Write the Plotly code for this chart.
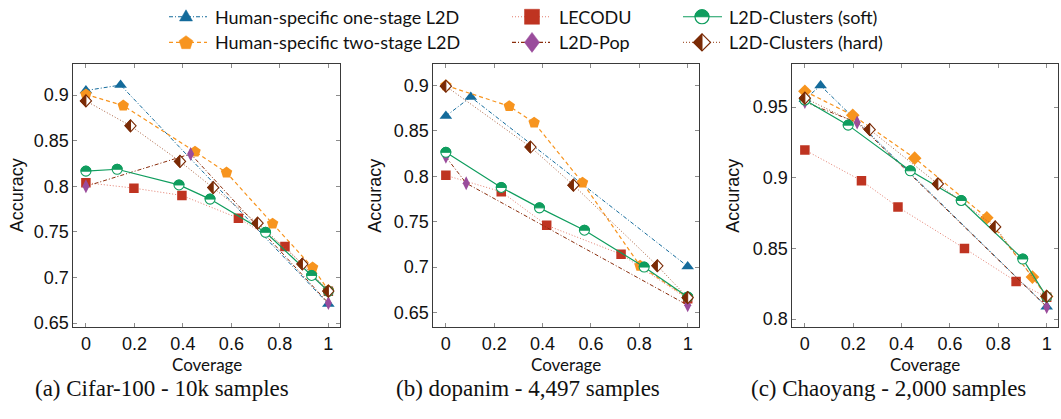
import math
import plotly.graph_objects as go

W, H = 1061, 419

coverage_ticks = [0, 0.2, 0.4, 0.6, 0.8, 1]
coverage_tick_text = ["0", "0.2", "0.4", "0.6", "0.8", "1"]

# ---- Cifar-100 - 10k samples ----
cifar_one_x = [0, 0.143, 1]
cifar_one_y = [0.905, 0.911, 0.671]
cifar_two_x = [0, 0.154, 0.45, 0.58, 0.77, 0.935, 1]
cifar_two_y = [0.9007, 0.8885, 0.838, 0.815, 0.759, 0.711, 0.686]
cifar_lecodu_x = [0, 0.198, 0.396, 0.629, 0.821, 1]
cifar_lecodu_y = [0.804, 0.798, 0.790, 0.765, 0.734, 0.685]
cifar_pop_x = [0, 0.432, 1]
cifar_pop_y = [0.800, 0.8355, 0.672]
cifar_soft_x = [0, 0.129, 0.384, 0.512, 0.741, 0.931, 1]
cifar_soft_y = [0.8166, 0.8187, 0.8015, 0.786, 0.7496, 0.7023, 0.685]
cifar_hard_x = [0, 0.184, 0.388, 0.525, 0.708, 0.893, 1]
cifar_hard_y = [0.8936, 0.8663, 0.8273, 0.7986, 0.7596, 0.7148, 0.6851]
cifar_y_ticks = [0.65, 0.7, 0.75, 0.8, 0.85, 0.9]
cifar_y_text = ["0.65", "0.7", "0.75", "0.8", "0.85", "0.9"]

# ---- dopanim - 4,497 samples ----
dopanim_one_x = [0, 0.103, 1]
dopanim_one_y = [0.8663, 0.8873, 0.7007]
dopanim_two_x = [0, 0.262, 0.365, 0.565, 0.803, 1]
dopanim_two_y = [0.900, 0.8772, 0.859, 0.793, 0.7014, 0.6663]
dopanim_lecodu_x = [0, 0.229, 0.417, 0.7245, 1]
dopanim_lecodu_y = [0.801, 0.783, 0.746, 0.7141, 0.665]
dopanim_pop_x = [0, 0.084, 1]
dopanim_pop_y = [0.8214, 0.7924, 0.658]
dopanim_soft_x = [0, 0.229, 0.387, 0.573, 0.82, 1]
dopanim_soft_y = [0.8264, 0.7877, 0.7652, 0.7406, 0.700, 0.667]
dopanim_hard_x = [0, 0.35, 0.5275, 0.8747, 1]
dopanim_hard_y = [0.8993, 0.8322, 0.7902, 0.7014, 0.6663]
dopanim_y_ticks = [0.65, 0.7, 0.75, 0.8, 0.85, 0.9]
dopanim_y_text = ["0.65", "0.7", "0.75", "0.8", "0.85", "0.9"]

# ---- Chaoyang - 2,000 samples ----
chaoyang_one_x = [0, 0.065, 1]
chaoyang_one_y = [0.9555, 0.9652, 0.8087]
chaoyang_two_x = [0, 0.198, 0.454, 0.7524, 0.941, 1]
chaoyang_two_y = [0.9612, 0.9442, 0.9138, 0.8717, 0.8297, 0.816]
chaoyang_lecodu_x = [0, 0.234, 0.385, 0.66, 0.8735, 1]
chaoyang_lecodu_y = [0.9196, 0.8979, 0.8792, 0.850, 0.8266, 0.8155]
chaoyang_pop_x = [0, 0.216, 1]
chaoyang_pop_y = [0.9535, 0.939, 0.8086]
chaoyang_soft_x = [0, 0.179, 0.436, 0.6465, 0.901, 1]
chaoyang_soft_y = [0.955, 0.9372, 0.9049, 0.8839, 0.8425, 0.8157]
chaoyang_hard_x = [0, 0.268, 0.55, 0.787, 1]
chaoyang_hard_y = [0.9563, 0.9341, 0.8956, 0.8652, 0.8161]
chaoyang_y_ticks = [0.8, 0.85, 0.9, 0.95]
chaoyang_y_text = ["0.8", "0.85", "0.9", "0.95"]

subplot_titles = ["(a) Cifar-100 - 10k samples",
                  "(b) dopanim - 4,497 samples",
                  "(c) Chaoyang - 2,000 samples"]

legend_names = ["Human-specific one-stage L2D", "Human-specific two-stage L2D",
                "LECODU", "L2D-Pop", "L2D-Clusters (soft)", "L2D-Clusters (hard)"]

BLUE = "#146B9B"
ORANGE = "#F7941E"
RED = "#BF3421"
RED_LINE = "#E27D6E"
PURPLE = "#9A4C9C"
POP_LINE = "#8A2D0C"
GREEN = "#0F9D5E"
BROWN = "#7A2A05"
BROWN_LINE = "#A8603F"

DASHDOT = "4px,2px,1px,2px"
DASHED = "4px,3px"
DOTTED = "1px,2px"

panels = [
    dict(one=(cifar_one_x, cifar_one_y), two=(cifar_two_x, cifar_two_y),
         lecodu=(cifar_lecodu_x, cifar_lecodu_y), pop=(cifar_pop_x, cifar_pop_y),
         soft=(cifar_soft_x, cifar_soft_y), hard=(cifar_hard_x, cifar_hard_y),
         yticks=(cifar_y_ticks, cifar_y_text), yrange=[0.6455, 0.934],
         two_symbol="pentagon", two_size=12),
    dict(one=(dopanim_one_x, dopanim_one_y), two=(dopanim_two_x, dopanim_two_y),
         lecodu=(dopanim_lecodu_x, dopanim_lecodu_y), pop=(dopanim_pop_x, dopanim_pop_y),
         soft=(dopanim_soft_x, dopanim_soft_y), hard=(dopanim_hard_x, dopanim_hard_y),
         yticks=(dopanim_y_ticks, dopanim_y_text), yrange=[0.6337, 0.9236],
         two_symbol="pentagon", two_size=12),
    dict(one=(chaoyang_one_x, chaoyang_one_y), two=(chaoyang_two_x, chaoyang_two_y),
         lecodu=(chaoyang_lecodu_x, chaoyang_lecodu_y), pop=(chaoyang_pop_x, chaoyang_pop_y),
         soft=(chaoyang_soft_x, chaoyang_soft_y), hard=(chaoyang_hard_x, chaoyang_hard_y),
         yticks=(chaoyang_y_ticks, chaoyang_y_text), yrange=[0.7942, 0.9804],
         two_symbol="diamond", two_size=10.5),
]

# pixel layout of the three axes boxes
x_domains_px = [(73.3, 340.0), (433.3, 699.3), (792.3, 1058.3)]
y_top_px, y_bottom_px = 65.0, 332.0
accuracy_x_px = [16.7, 375.0, 733.0]
subtitle_x_px = [162.0, 528.0, 888.0]
coverage_y_px = 370.0
subtitle_y_px = 394.0


def fx(px):
    return px / W


def fy(py):
    return 1 - py / H


def n(v):
    return f"{v:.2f}"


def circle_path(r, upper_only=False):
    k = 0.5523 * r
    p = (f"M{n(r)},0 C{n(r)},{n(k)} {n(k)},{n(r)} 0,{n(r)} "
         f"C{n(-k)},{n(r)} {n(-r)},{n(k)} {n(-r)},0")
    if not upper_only:
        p += (f" C{n(-r)},{n(-k)} {n(-k)},{n(-r)} 0,{n(-r)} "
              f"C{n(k)},{n(-r)} {n(r)},{n(-k)} {n(r)},0")
    return p + " Z"


def diamond_path(dx, dy, left_only=False):
    if left_only:
        return f"M0,{n(dy)} L{n(-dx)},0 L0,{n(-dy)} Z"
    return f"M{n(dx)},0 L0,{n(dy)} L{n(-dx)},0 L0,{n(-dy)} Z"


def pixel_shape(path, xref, yref, xa, ya, fill, line_color, line_width):
    return dict(type="path", xref=xref, yref=yref, xsizemode="pixel",
                ysizemode="pixel", xanchor=xa, yanchor=ya, path=path,
                fillcolor=fill, line=dict(color=line_color, width=line_width),
                layer="above")


fig = go.Figure()
shapes = []
annotations = []

for i, p in enumerate(panels):
    sfx = "" if i == 0 else str(i + 1)
    xa, ya = "x" + sfx, "y" + sfx

    def add(xy, color, dash, width, marker=None):
        kw = dict(x=xy[0], y=xy[1], xaxis=xa, yaxis=ya, showlegend=False,
                  hoverinfo="skip", line=dict(color=color, dash=dash, width=width))
        if marker:
            kw.update(mode="lines+markers", marker=marker)
        else:
            kw.update(mode="lines")
        fig.add_trace(go.Scatter(**kw))

    add(p["one"], BLUE, DASHDOT, 1.0,
        dict(symbol="triangle-up", size=11, color=BLUE, line=dict(width=0)))
    add(p["two"], ORANGE, DASHED, 1.2,
        dict(symbol=p["two_symbol"], size=p["two_size"], color=ORANGE, line=dict(width=0)))
    add(p["lecodu"], RED_LINE, DOTTED, 1.0,
        dict(symbol="square", size=9.5, color=RED, line=dict(width=0)))
    add(p["pop"], POP_LINE, DASHDOT, 1.0,
        dict(symbol="diamond-tall", size=10, color=PURPLE, line=dict(width=0)))
    add(p["soft"], GREEN, "solid", 1.2)
    add(p["hard"], BROWN_LINE, DOTTED, 1.0)

    # half-filled circle markers (soft) and half-filled diamond markers (hard)
    for x, y in zip(*p["soft"]):
        shapes.append(pixel_shape(circle_path(5.0), xa, ya, x, y, "white", GREEN, 1.1))
        shapes.append(pixel_shape(circle_path(5.0, True), xa, ya, x, y, GREEN, GREEN, 1.0))
    for x, y in zip(*p["hard"]):
        shapes.append(pixel_shape(diamond_path(5.6, 6.0), xa, ya, x, y, "white", BROWN, 1.1))
        shapes.append(pixel_shape(diamond_path(5.6, 6.0, True), xa, ya, x, y, BROWN, BROWN, 1.0))

    d0, d1 = x_domains_px[i]
    axis_common = dict(ticks="inside", ticklen=4, tickwidth=1, tickcolor="#8c8c8c",
                       showline=True, linecolor="#3a3a3a", linewidth=1, mirror="ticks",
                       showgrid=False, zeroline=False,
                       tickfont=dict(family="Liberation Sans, Arial, sans-serif",
                                     size=18, color="#111"))
    fig.update_layout(**{
        "xaxis" + sfx: dict(domain=[fx(d0), fx(d1)], anchor=ya, range=[-0.052, 1.048],
                            tickvals=coverage_ticks, ticktext=coverage_tick_text,
                            **axis_common),
        "yaxis" + sfx: dict(domain=[fy(y_bottom_px), fy(y_top_px)], anchor=xa,
                            range=p["yrange"], tickvals=p["yticks"][0],
                            ticktext=p["yticks"][1], **axis_common),
    })

    annotations.append(dict(text="Accuracy", xref="paper", yref="paper",
                            x=fx(accuracy_x_px[i]), y=fy((y_top_px + y_bottom_px) / 2),
                            textangle=-90, showarrow=False, xanchor="center", yanchor="middle",
                            font=dict(family="Liberation Sans, Arial, sans-serif", size=18,
                                      color="#111")))
    annotations.append(dict(text="Coverage", xref="paper", yref="paper",
                            x=fx((d0 + d1) / 2), y=fy(coverage_y_px), showarrow=False,
                            xanchor="center", yanchor="middle",
                            font=dict(family="Liberation Sans Narrow, Lato, sans-serif",
                                      size=17, color="#111")))
    annotations.append(dict(text=subplot_titles[i], xref="paper", yref="paper",
                            x=fx(subtitle_x_px[i]), y=fy(subtitle_y_px), showarrow=False,
                            xanchor="center", yanchor="middle",
                            font=dict(family="Liberation Serif, Times New Roman, serif",
                                      size=23, color="#111")))

# ---- legend (3 columns x 2 rows) ----
legend_cols = [(169, 207, 186, 213), (512, 550, 532, 557), (683, 722, 702, 727)]
legend_rows = [17, 43]
legend_styles = [
    (BLUE, DASHDOT), (ORANGE, DASHED), (RED_LINE, DOTTED),
    (POP_LINE, DASHDOT), (GREEN, "solid"), (BROWN_LINE, DOTTED),
]
for k, name in enumerate(legend_names):
    c0, c1, cm, ct = legend_cols[k // 2]
    ry = legend_rows[k % 2]
    color, dash = legend_styles[k]
    shapes.append(dict(type="line", xref="paper", yref="paper",
                       x0=fx(c0), x1=fx(c1), y0=fy(ry), y1=fy(ry),
                       line=dict(color=color, dash=dash, width=1.2), layer="above"))
    annotations.append(dict(text=name, xref="paper", yref="paper", x=fx(ct), y=fy(ry),
                            xanchor="left", yanchor="middle", showarrow=False,
                            font=dict(family="Lato, Open Sans, sans-serif", size=18,
                                      color="#111")))


def mx(k):
    return fx(legend_cols[k // 2][2])


def my(k):
    return fy(legend_rows[k % 2])


tri = "M-6.5,-4.2 L6.5,-4.2 L0,7 Z"
pent_pts = []
for j in range(5):
    a = math.radians(90 + 72 * j)
    pent_pts.append((7.2 * math.cos(a), 7.2 * math.sin(a) - 0.5))
pent = "M" + " L".join(f"{n(px)},{n(py)}" for px, py in pent_pts) + " Z"
sq = "M-7.5,-7.5 L7.5,-7.5 L7.5,7.5 L-7.5,7.5 Z"
shapes.append(pixel_shape(tri, "paper", "paper", mx(0), my(0), BLUE, BLUE, 0.5))
shapes.append(pixel_shape(pent, "paper", "paper", mx(1), my(1), ORANGE, ORANGE, 0.5))
shapes.append(pixel_shape(sq, "paper", "paper", mx(2), my(2), RED, RED, 0.5))
shapes.append(pixel_shape(diamond_path(7.5, 10.0), "paper", "paper", mx(3), my(3),
                          PURPLE, PURPLE, 0.5))
shapes.append(pixel_shape(circle_path(7.0), "paper", "paper", mx(4), my(4), "white", GREEN, 1.2))
shapes.append(pixel_shape(circle_path(7.0, True), "paper", "paper", mx(4), my(4), GREEN, GREEN, 1.0))
shapes.append(pixel_shape(diamond_path(8.5, 8.5), "paper", "paper", mx(5), my(5), "white", BROWN, 1.2))
shapes.append(pixel_shape(diamond_path(8.5, 8.5, True), "paper", "paper", mx(5), my(5),
                          BROWN, BROWN, 1.0))

fig.update_layout(width=W, height=H, margin=dict(l=0, r=0, t=0, b=0),
                  paper_bgcolor="white", plot_bgcolor="white",
                  shapes=shapes, annotations=annotations, showlegend=False)

fig.write_html("out.html")
